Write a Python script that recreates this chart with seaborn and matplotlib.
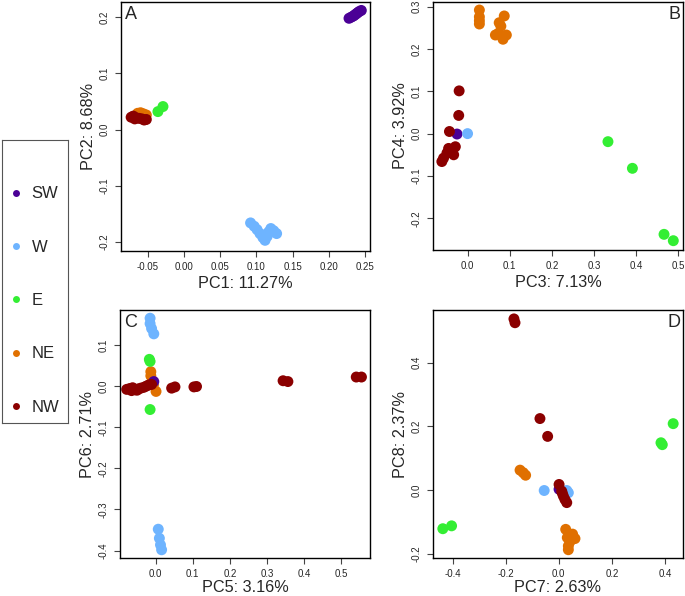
import numpy as np
import pandas as pd
import matplotlib
matplotlib.use('Agg')
import matplotlib.pyplot as plt
from matplotlib.lines import Line2D
import seaborn as sns

groups = ['SW', 'W', 'E', 'NE', 'NW']
colors = ['#4B0096', '#6EB4FF', '#33EE33', '#E07000', '#8B0000']
draw_order = ['NE', 'SW', 'W', 'E', 'NW']

# panel A: PC1 vs PC2
a_x = [0.228, 0.231, 0.234, 0.236, 0.238, 0.240, 0.242, 0.245,
       0.092, 0.097, 0.101, 0.105, 0.109, 0.112, 0.115, 0.117, 0.120, 0.124, 0.128, 0.110,
       -0.036, -0.029,
       -0.064, -0.060, -0.056, -0.052, -0.058,
       -0.073, -0.070, -0.066, -0.062, -0.058, -0.055, -0.052, -0.068]
a_y = [0.198, 0.200, 0.202, 0.204, 0.206, 0.208, 0.210, 0.212,
       -0.166, -0.172, -0.178, -0.185, -0.192, -0.197, -0.190, -0.182, -0.176, -0.180, -0.185, -0.188,
       0.032, 0.041,
       0.029, 0.030, 0.028, 0.026, 0.025,
       0.022, 0.024, 0.021, 0.020, 0.019, 0.017, 0.018, 0.019]
a_g = ['SW'] * 8 + ['W'] * 12 + ['E'] * 2 + ['NE'] * 5 + ['NW'] * 8

# panel B: PC3 vs PC4
b_x = [-0.025, 0.0,
       0.333, 0.391, 0.466, 0.488,
       0.028, 0.028, 0.028, 0.028, 0.087, 0.075, 0.079, 0.066, 0.084, 0.092, 0.073,
       -0.020, -0.021, -0.043, -0.029, -0.037, -0.033, -0.049, -0.057, -0.061, -0.045]
b_y = [-0.001, 0.0,
       -0.019, -0.082, -0.238, -0.253,
       0.292, 0.276, 0.267, 0.259, 0.278, 0.262, 0.254, 0.233, 0.223, 0.233, 0.237,
       0.101, 0.043, 0.005, -0.031, -0.039, -0.050, -0.046, -0.058, -0.066, -0.035]
b_g = ['SW'] + ['W'] + ['E'] * 4 + ['NE'] * 11 + ['NW'] * 10

# panel C: PC5 vs PC6
c_x = [-0.005,
       -0.015, -0.015, -0.011, -0.005, 0.007, 0.010, 0.013, 0.016,
       -0.017, -0.015, -0.015,
       -0.013, -0.013, -0.006, 0.001,
       -0.078, -0.070, -0.062, -0.055, -0.047, -0.040, -0.032, -0.025, -0.018, -0.011, -0.065, -0.050,
       0.043, 0.052, 0.103, 0.110, 0.343, 0.356, 0.540, 0.554]
c_y = [0.011,
       0.165, 0.152, 0.140, 0.127, -0.348, -0.370, -0.386, -0.398,
       0.065, 0.060, -0.057,
       0.035, 0.025, 0.003, -0.013,
       -0.008, -0.006, -0.004, -0.009, -0.007, -0.005, -0.003, 0.0, 0.003, 0.004, -0.011, -0.010,
       -0.005, -0.002, -0.002, -0.001, 0.013, 0.011, 0.022, 0.022]
c_g = ['SW'] + ['W'] * 8 + ['E'] * 3 + ['NE'] * 4 + ['NW'] * 20

# panel D: PC7 vs PC8
d_x = [0.001,
       -0.055, 0.030, 0.036,
       -0.437, -0.404, 0.385, 0.390, 0.431,
       -0.146, -0.134, -0.125, 0.026, 0.032, 0.052, 0.061, 0.036, 0.036, 0.042,
       -0.169, -0.165, -0.071, -0.042, 0.001, 0.011, 0.017, 0.023, 0.030, 0.013]
d_y = [0.002,
       -0.002, -0.002, -0.009,
       -0.122, -0.113, 0.148, 0.142, 0.208,
       0.062, 0.054, 0.046, -0.124, -0.150, -0.139, -0.153, -0.176, -0.188, -0.163,
       0.537, 0.525, 0.224, 0.168, 0.017, -0.004, -0.019, -0.030, -0.040, -0.010]
d_g = ['SW'] + ['W'] * 3 + ['E'] * 5 + ['NE'] * 10 + ['NW'] * 10

a_xticks = [-0.05, 0.0, 0.05, 0.10, 0.15, 0.20, 0.25]
a_xlabels = ['-0.05', '0.00', '0.05', '0.10', '0.15', '0.20', '0.25']
a_yticks = [-0.2, -0.1, 0.0, 0.1, 0.2]
a_ylabels = ['-0.2', '-0.1', '0.0', '0.1', '0.2']
b_xticks = [0.0, 0.1, 0.2, 0.3, 0.4, 0.5]
b_xlabels = ['0.0', '0.1', '0.2', '0.3', '0.4', '0.5']
b_yticks = [-0.2, -0.1, 0.0, 0.1, 0.2, 0.3]
b_ylabels = ['-0.2', '-0.1', '0.0', '0.1', '0.2', '0.3']
c_xticks = [0.0, 0.1, 0.2, 0.3, 0.4, 0.5]
c_xlabels = ['0.0', '0.1', '0.2', '0.3', '0.4', '0.5']
c_yticks = [-0.4, -0.3, -0.2, -0.1, 0.0, 0.1]
c_ylabels = ['-0.4', '-0.3', '-0.2', '-0.1', '0.0', '0.1']
d_xticks = [-0.4, -0.2, 0.0, 0.2, 0.4]
d_xlabels = ['-0.4', '-0.2', '0.0', '0.2', '0.4']
d_yticks = [-0.2, 0.0, 0.2, 0.4]
d_ylabels = ['-0.2', '0.0', '0.2', '0.4']

sns.set_style('white')
plt.rcParams['font.family'] = ['Liberation Sans', 'DejaVu Sans']

W, H = 685, 596
fig = plt.figure(figsize=(W / 100, H / 100), dpi=100)
palette = dict(zip(groups, colors))


def add_ax(x0, y0, x1, y1):
    return fig.add_axes([x0 / W, 1 - y1 / H, (x1 - x0) / W, (y1 - y0) / H])


panels = [
    (add_ax(121, 2, 370, 251), a_x, a_y, a_g, 'A', 'PC1: 11.27%', 'PC2: 8.68%',
     (-0.087, 0.257), (-0.216, 0.227), a_xticks, a_xlabels, a_yticks, a_ylabels, 'left', 2.5),
    (add_ax(433, 2, 683, 250), b_x, b_y, b_g, 'B', 'PC3: 7.13%', 'PC4: 3.92%',
     (-0.082, 0.511), (-0.275, 0.311), b_xticks, b_xlabels, b_yticks, b_ylabels, 'right', 2.5),
    (add_ax(120, 310, 370, 558), c_x, c_y, c_g, 'C', 'PC5: 3.16%', 'PC6: 2.71%',
     (-0.096, 0.577), (-0.418, 0.185), c_xticks, c_xlabels, c_yticks, c_ylabels, 'left', 0.5),
    (add_ax(433, 310, 683, 558), d_x, d_y, d_g, 'D', 'PC7: 2.63%', 'PC8: 2.37%',
     (-0.474, 0.468), (-0.214, 0.565), d_xticks, d_xlabels, d_yticks, d_ylabels, 'right', 0.5),
]

for (ax, xs, ys, gs, letter, xl, yl, xlim, ylim,
     xt, xtl, yt, ytl, side, xpad) in panels:
    df = pd.DataFrame({'x': xs, 'y': ys, 'g': gs})
    df['o'] = df['g'].map({g: i for i, g in enumerate(draw_order)})
    df = df.sort_values('o', kind='stable')
    sns.scatterplot(data=df, x='x', y='y', hue='g', palette=palette, s=62,
                    linewidth=0, legend=False, ax=ax)
    ax.set_xlim(*xlim)
    ax.set_ylim(*ylim)
    ax.set_xticks(xt)
    ax.set_xticklabels(xtl)
    ax.set_yticks(yt)
    ax.set_yticklabels(ytl, rotation=90, va='center')
    ax.tick_params(axis='both', labelsize=7, length=4, width=0.8,
                   direction='out', color='#444444', bottom=True, left=True)
    ax.tick_params(axis='x', pad=4)
    ax.tick_params(axis='y', pad=4)
    ax.set_xlabel(xl, fontsize=11.7, labelpad=xpad)
    ax.set_ylabel(yl, fontsize=11.7, labelpad=3)
    for sp in ax.spines.values():
        sp.set_visible(True)
        sp.set_color('black')
        sp.set_linewidth(1.0)
    if side == 'left':
        ax.text(0.015, 0.985, letter, transform=ax.transAxes, ha='left', va='top', fontsize=13)
    else:
        ax.text(0.99, 0.985, letter, transform=ax.transAxes, ha='right', va='top', fontsize=13)

# legend box as its own axes
lax = add_ax(2, 140, 68, 423)
lax.set_xticks([])
lax.set_yticks([])
for sp in lax.spines.values():
    sp.set_visible(True)
    sp.set_color('#555555')
    sp.set_linewidth(0.8)
handles = [Line2D([], [], marker='o', linestyle='', markersize=5,
                  markerfacecolor=c, markeredgewidth=0, label=g)
           for g, c in zip(groups, colors)]
lax.legend(handles=handles, loc='upper left', bbox_to_anchor=(0.11, 0.836),
           frameon=False, fontsize=12, labelspacing=2.3,
           handlelength=0.8, handletextpad=0.55, borderpad=0, borderaxespad=0)

fig.savefig('out.png', dpi=100)
